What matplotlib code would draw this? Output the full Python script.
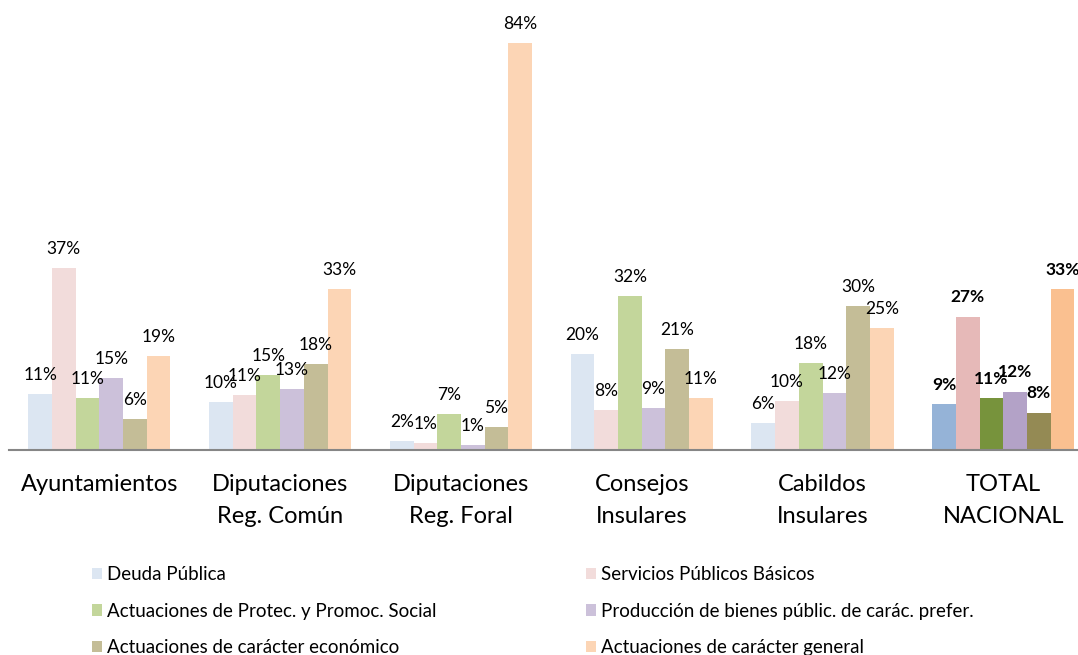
import numpy as np
import matplotlib.pyplot as plt
from matplotlib.patches import Patch

plt.rcParams['font.family'] = ['Lato', 'DejaVu Sans']

# categorias (grupos del eje x)
grupos = ['Ayuntamientos', 'Diputaciones\nReg. Común', 'Diputaciones\nReg. Foral',
          'Consejos\nInsulares', 'Cabildos\nInsulares', 'TOTAL\nNACIONAL']

# series (% del gasto)
series = ['Deuda Pública', 'Servicios Públicos Básicos',
          'Actuaciones de Protec. y Promoc. Social',
          'Producción de bienes públic. de carác. prefer.',
          'Actuaciones de carácter económico', 'Actuaciones de carácter general']

deuda      = [11.4, 9.9, 1.8, 19.7, 5.6, 9.4]
servicios  = [37.4, 11.3, 1.4, 8.2, 10.1, 27.4]
proteccion = [10.6, 15.3, 7.4, 31.7, 17.9, 10.7]
produccion = [14.8, 12.6, 1.0, 8.7, 11.7, 12.0]
economico  = [6.3, 17.6, 4.7, 20.8, 29.6, 7.7]
general    = [19.3, 33.1, 83.6, 10.7, 25.0, 33.1]

valores = [deuda, servicios, proteccion, produccion, economico, general]

# colores claros y colores fuertes (total nacional)
claros = ['#DCE6F2', '#F2DCDB', '#C3D69B', '#CCC1DA', '#C4BD97', '#FCD5B5']
fuertes = ['#95B3D7', '#E6B9B8', '#77933C', '#B3A2C7', '#948A54', '#FAC090']

W, H = 1078, 655
fig = plt.figure(figsize=(W / 100, H / 100), dpi=100)
ax = fig.add_axes([9 / W, 205 / H, (W - 9) / W, 450 / H])

x = np.arange(len(grupos))
w = 0.131
for k in range(6):
    cols = [claros[k]] * 5 + [fuertes[k]]
    pos = x + (k - 2.5) * w
    bars = ax.bar(pos, valores[k], width=w, color=cols, edgecolor='none')
    for i, b in enumerate(bars):
        v = valores[k][i]
        ax.annotate('%d%%' % round(v), (b.get_x() + w / 2, v),
                    xytext=(0, 8), textcoords='offset points',
                    ha='center', va='bottom', fontsize=12.5,
                    fontweight='bold' if i == 5 else 'normal', color='black')

ax.set_xlim(-0.5, 5.413)
ax.set_ylim(0, 92.4)
for s in ['top', 'right', 'left']:
    ax.spines[s].set_visible(False)
ax.spines['bottom'].set_color('#868686')
ax.spines['bottom'].set_linewidth(1.5)
ax.set_yticks([])
ax.set_xticks(x)
ax.set_xticklabels(grupos, fontsize=17, linespacing=1.6)
ax.tick_params(axis='x', length=0, pad=17.5)

# leyenda en dos columnas
h = [Patch(facecolor=c, edgecolor='none') for c in claros]
opts = dict(loc='upper left', frameon=False, fontsize=13.5, handlelength=0.55,
            handleheight=0.55, handletextpad=0.25, labelspacing=1.05,
            borderpad=0, borderaxespad=0)
fig.legend(h[0::2], series[0::2], bbox_to_anchor=(92 / W, 1 - 566 / H), **opts)
fig.legend(h[1::2], series[1::2], bbox_to_anchor=(586 / W, 1 - 566 / H), **opts)

fig.savefig('out.png', dpi=100)
